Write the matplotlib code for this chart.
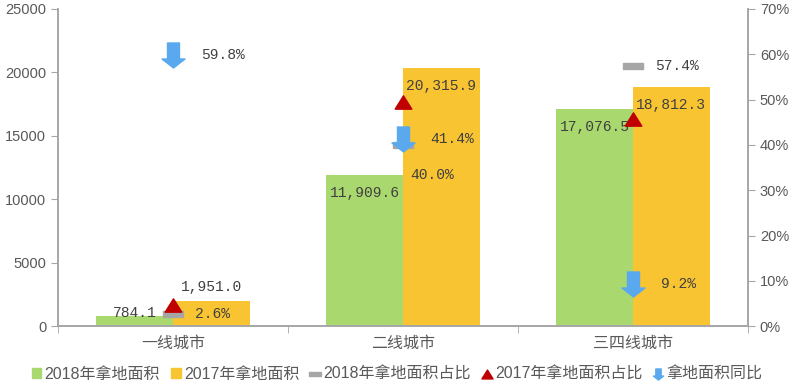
import matplotlib.pyplot as plt
from matplotlib.path import Path
from matplotlib.lines import Line2D
from matplotlib.patches import Patch

plt.rcParams['font.family'] = ['Liberation Sans', 'Noto Sans CJK SC', 'DejaVu Sans']

cities = ['一线城市', '二线城市', '三四线城市']
area_2018 = [784.1, 11909.6, 17076.5]
area_2017 = [1951.0, 20315.9, 18812.3]
share_2018 = [2.6, 40.0, 57.4]
share_2017 = [4.7, 49.5, 45.8]
yoy_drop = [59.8, 41.4, 9.2]

GREEN = '#A9D86E'
YELLOW = '#F8C432'
GRAY = '#A6A6A6'
RED = '#C00000'
BLUE = '#5AA9EE'
TXT = '#404040'
AXC = '#595959'

arrow = Path([(-0.24, 0.5), (0.24, 0.5), (0.24, -0.14), (0.46, -0.14), (0.0, -0.5),
              (-0.46, -0.14), (-0.24, -0.14), (-0.24, 0.5)], closed=True)
dash = Path([(-0.5, -0.13), (0.5, -0.13), (0.5, 0.13), (-0.5, 0.13), (-0.5, -0.13)], closed=True)
tri = Path([(0.0, 0.4), (-0.5, -0.4), (0.5, -0.4), (0.0, 0.4)], closed=True)

fig = plt.figure(figsize=(7.94, 3.86), dpi=100)
ax = fig.add_axes([0.073, 0.155, 0.869, 0.822])
ax2 = ax.twinx()

x = list(range(len(cities)))
w = 1 / 3
ax.bar([i - w / 2 for i in x], area_2018, width=w, color=GREEN, zorder=2)
ax.bar([i + w / 2 for i in x], area_2017, width=w, color=YELLOW, zorder=2)

# value labels look like a fixed-width font in the original
lab_font = dict(family=['Liberation Mono', 'DejaVu Sans Mono'], fontsize=10.5, color=TXT)
for i in x:
    for xs, v in ((i - w / 2, area_2018[i]), (i + w / 2, area_2017[i])):
        if v > 5000:
            ax.annotate(f'{v:,.1f}', (xs, v), xytext=(0, -13), textcoords='offset points',
                        ha='center', va='center', zorder=5, **lab_font)
        else:
            ax.annotate(f'{v:,.1f}', (xs, v), xytext=(0, 5 if xs > i else -3),
                        textcoords='offset points', ha='center', va='bottom', zorder=5, **lab_font)

ax.set_xlim(-0.5, 2.5)
ax.set_ylim(0, 25000)
ax.set_yticks(range(0, 25001, 5000))
ax2.set_ylim(0, 70)
ax2.set_yticks(range(0, 71, 10))
ax2.set_yticklabels([f'{t}%' for t in range(0, 71, 10)])

ax2.plot(x, share_2018, ls='none', marker=dash, markersize=14.5, color=GRAY, zorder=3)
ax2.plot(x, share_2017, ls='none', marker=tri, markersize=12, color=RED, zorder=4)
ax2.plot(x, yoy_drop, ls='none', marker=arrow, markersize=18, color=BLUE, zorder=5)

gray_offsets = [(16, 0), (5, -22), (16, 0)]
for i in x:
    ax2.annotate(f'{share_2018[i]:.1f}%', (i, share_2018[i]), xytext=gray_offsets[i],
                 textcoords='offset points', ha='left', va='center', **lab_font)
    ax2.annotate(f'{yoy_drop[i]:.1f}%', (i, yoy_drop[i]), xytext=(20, 0),
                 textcoords='offset points', ha='left', va='center', **lab_font)

ax.set_xticks(x)
ax.set_xticklabels(cities, family=['Noto Sans CJK SC'], fontsize=11.5, color=AXC)
ax.set_xticks([-0.5, 0.5, 1.5, 2.5], minor=True)
ax.tick_params(axis='x', which='major', length=0, pad=6)
ax.tick_params(axis='x', which='minor', length=5, color=GRAY, direction='out')
ax.tick_params(axis='y', length=5, color=GRAY, labelsize=10.5, labelcolor=AXC)
ax2.tick_params(axis='y', length=5, color=GRAY, labelsize=10.5, labelcolor=AXC)

for a in (ax, ax2):
    a.spines['top'].set_visible(False)
    for s in ('left', 'right', 'bottom'):
        a.spines[s].set_color(GRAY)
        a.spines[s].set_linewidth(1.2)

handles = [
    Patch(color=GREEN),
    Patch(color=YELLOW),
    Line2D([], [], ls='none', marker=dash, markersize=9, color=GRAY),
    Line2D([], [], ls='none', marker=tri, markersize=8, color=RED),
    Line2D([], [], ls='none', marker=arrow, markersize=8, color=BLUE),
]
names = ['2018年拿地面积', '2017年拿地面积', '2018年拿地面积占比', '2017年拿地面积占比', '拿地面积同比']
fig.legend(handles, names, loc='center', bbox_to_anchor=(0.5, 0.03), ncol=5, frameon=False,
           handlelength=0.6, handleheight=0.6, handletextpad=0.2, columnspacing=0.7,
           prop={'family': ['Liberation Sans', 'Noto Sans CJK SC'], 'size': 11.5},
           labelcolor=AXC)

fig.savefig('out.png', dpi=100)
